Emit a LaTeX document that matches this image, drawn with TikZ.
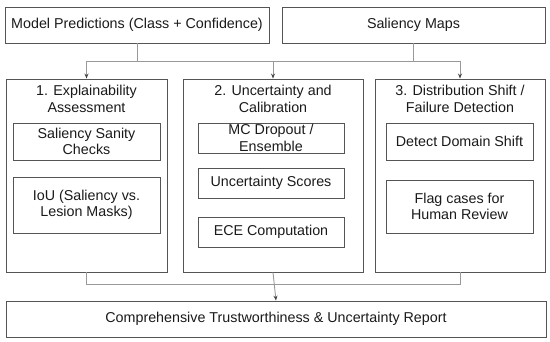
\documentclass[tikz,border=0pt]{standalone}
\usepackage{fontspec}
\setmainfont{Liberation Sans}
\usetikzlibrary{arrows.meta}
\definecolor{boxline}{HTML}{555555}
\definecolor{connline}{HTML}{999999}
\definecolor{txt}{HTML}{1A1A1A}
\begin{document}
\begin{tikzpicture}[x=1pt,y=-1pt,
  box/.style={draw=boxline,line width=0.9pt,rectangle,inner sep=0pt,align=center,text=txt,
    font=\fontsize{14.3}{16.5}\selectfont},
  conn/.style={draw=connline,line width=0.9pt},
  arr/.style={conn,-{Stealth[length=5pt,width=4pt,color=boxline!80!black]}}]
\useasboundingbox (0,0) rectangle (550,341);
% top row
\node[box,minimum width=264pt,minimum height=36pt] (tl) at (137,25) {Model Predictions (Class + Confidence)};
\node[box,minimum width=263pt,minimum height=36pt] (tr) at (413.5,25) {Saliency Maps};
% section boxes
\node[box,minimum width=161pt,minimum height=193pt] (s1) at (86.5,175.5) {};
\node[box,minimum width=180pt,minimum height=193pt] (s2) at (273,175.5) {};
\node[box,minimum width=170pt,minimum height=193pt] (s3) at (460,175.5) {};
% section titles
\node[box,draw=none] (t1) at (86.5,99) {1. Explainability\\Assessment};
\node[box,draw=none] (t2) at (273,99) {2. Uncertainty and\\Calibration};
\node[box,draw=none] (t3) at (460,99) {3. Distribution Shift /\\Failure Detection};
% column 1
\node[box,minimum width=147pt,minimum height=37pt] (a1) at (86.5,141.5) {Saliency Sanity\\Checks};
\node[box,minimum width=147pt,minimum height=56pt] (b1) at (86.5,205) {IoU (Saliency vs.\\Lesion Masks)};
% column 2
\node[box,minimum width=146pt,minimum height=30pt] (a2) at (271,138) {MC Dropout /\\Ensemble};
\node[box,minimum width=146pt,minimum height=30pt] (b2) at (271,183) {Uncertainty Scores};
\node[box,minimum width=146pt,minimum height=30pt] (c2) at (271,232) {ECE Computation};
% column 3
\node[box,minimum width=147pt,minimum height=37pt] (a3) at (459.5,141.5) {Detect Domain Shift};
\node[box,minimum width=147pt,minimum height=53pt] (b3) at (459.5,206.5) {Flag cases for\\Human Review};
% report
\node[box,minimum width=540pt,minimum height=36pt] (rep) at (276,319) {Comprehensive Trustworthiness \& Uncertainty Report};
% connectors top
\coordinate (bus) at (0,61);
\coordinate (bus2) at (0,284);
\draw[conn] (tl.south) -- (tl.south |- bus);
\draw[conn] (tr.south) -- (tr.south |- bus);
\draw[conn] (s1.north |- bus) -- (s3.north |- bus);
\draw[arr] (s1.north |- bus) -- (s1.north);
\draw[arr] (s2.north |- bus) -- (s2.north);
\draw[arr] (s3.north |- bus) -- (s3.north);
% connectors bottom
\draw[conn] (s1.south) -- (s1.south |- bus2) -- (s3.south |- bus2) -- (s3.south);
\draw[arr] (s2.south) -- (rep.north);
\end{tikzpicture}
\end{document}
